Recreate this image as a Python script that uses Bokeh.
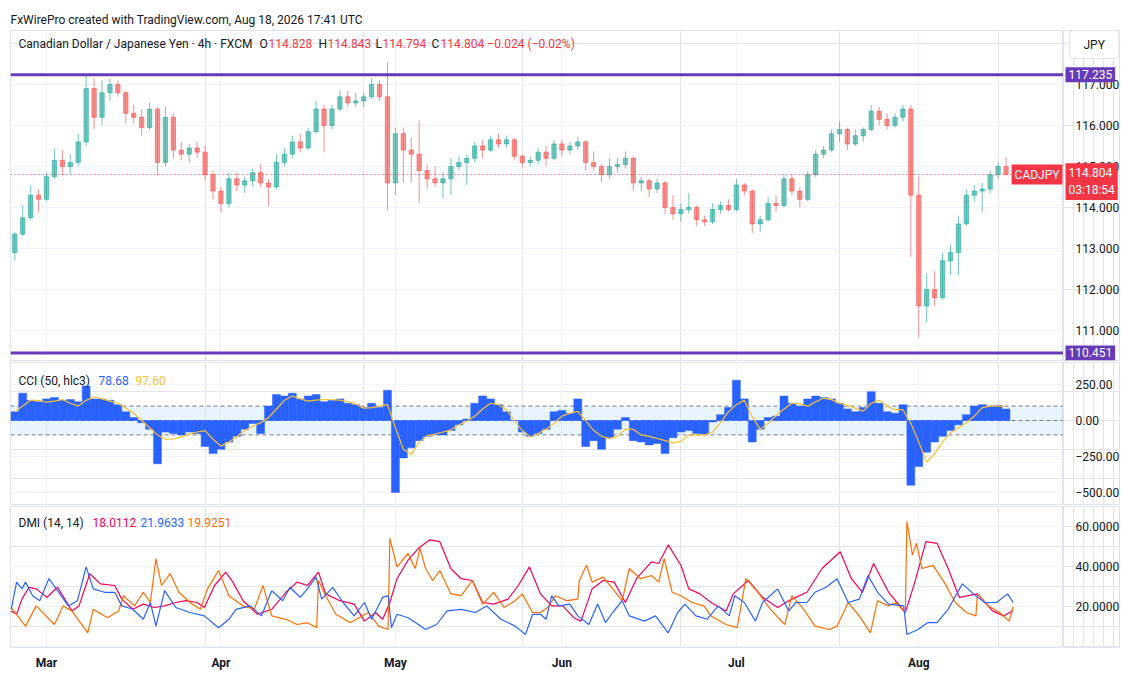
from bokeh.plotting import figure
from bokeh.models import (Range1d, FixedTicker, LinearAxis, Grid, Span, BoxAnnotation, Label,
                          ColumnDataSource, Title)
from bokeh.layouts import column, row
from bokeh.core.properties import value
from bokeh.embed import file_html
from bokeh.resources import INLINE

# ---------------- data ----------------
header_text = "FxWirePro created with TradingView.com, Aug 18, 2026 17:41 UTC"
symbol_name = "Canadian Dollar / Japanese Yen · 4h · FXCM"
ticker_name = "CADJPY"
currency = "JPY"
last_bar = [114.828, 114.843, 114.794, 114.804]
last_change = "\u22120.024 (\u22120.02%)"
countdown = "03:18:54"

month_names = ["Mar", "Apr", "May", "Jun", "Jul", "Aug"]
month_start_day = [0, 22, 44, 65, 87, 110]          # trading-day index of the first bar of each month
price_ticks = [111, 112, 113, 114, 115, 116, 117]
levels = [117.235, 110.451]

days = list(range(-4, 122))                         # trading-day index, 0 = Mar 2
open_ = [112.9, 113.35, 113.75, 114.3, 114.2, 114.75, 115.15, 115.0, 115.1, 115.6,
         116.9, 116.2, 116.8, 117.0, 116.8, 116.3, 116.2, 115.95, 116.4, 115.1,
         116.2, 115.4, 115.3, 115.45, 115.35, 114.8, 114.4, 114.1, 114.7, 114.55,
         114.65, 114.85, 114.6, 114.5, 115.1, 115.3, 115.6, 115.45, 115.85, 116.4,
         116.0, 116.4, 116.7, 116.55, 116.6, 116.7, 117.0, 116.7, 114.6, 115.8,
         115.4, 115.3, 114.9, 114.7, 114.6, 114.7, 115.0, 115.1, 115.2, 115.5,
         115.4, 115.65, 115.55, 115.65, 115.25, 115.1, 115.15, 115.35, 115.2, 115.55,
         115.4, 115.5, 115.6, 115.1, 115.0, 114.8, 115.0, 115.05, 115.2, 114.6,
         114.65, 114.45, 114.6, 114.0, 113.85, 113.95, 114.0, 113.7, 113.65, 113.95,
         114.05, 113.95, 114.55, 114.4, 113.6, 113.7, 114.1, 114.05, 114.7, 114.4,
         114.2, 114.8, 115.3, 115.4, 115.8, 115.9, 115.55, 115.75, 115.9, 116.35,
         116.15, 116.0, 116.2, 116.4, 114.3, 111.6, 112.0, 111.8, 112.7, 112.9,
         113.6, 114.3, 114.4, 114.45, 114.8, 115.0]
high = [113.4, 114.05, 114.55, 114.45, 114.85, 115.45, 115.4, 115.3, 115.8, 117.22,
        117.15, 117.1, 117.15, 117.1, 116.85, 116.5, 116.4, 116.55, 116.45, 116.45,
        116.3, 115.6, 115.55, 115.6, 115.5, 114.9, 114.5, 114.85, 114.85, 114.75,
        114.95, 115.05, 114.7, 115.3, 115.45, 115.75, 115.8, 115.95, 116.6, 116.5,
        116.5, 116.85, 116.85, 116.8, 116.8, 117.15, 117.1, 117.54, 115.95, 115.95,
        115.7, 116.12, 115.05, 115.0, 114.85, 115.2, 115.25, 115.3, 115.6, 115.65,
        115.75, 115.8, 115.75, 115.7, 115.3, 115.25, 115.45, 115.5, 115.65, 115.65,
        115.6, 115.72, 115.65, 115.37, 115.05, 115.2, 115.2, 115.37, 115.25, 114.75,
        114.7, 114.7, 114.65, 114.3, 114.1, 114.35, 114.05, 113.8, 114.1, 114.15,
        114.2, 114.7, 114.6, 114.45, 113.8, 114.25, 114.3, 114.8, 114.8, 114.5,
        114.9, 115.4, 115.5, 115.9, 116.1, 115.95, 115.9, 115.95, 116.5, 116.45,
        116.3, 116.3, 116.5, 116.5, 114.75, 112.4, 112.45, 112.9, 113.1, 113.8,
        114.45, 114.55, 114.6, 114.9, 115.1, 115.22]
low = [112.7, 113.3, 113.7, 113.88, 114.15, 114.7, 114.78, 114.8, 115.0, 115.5,
       115.9, 116.0, 116.6, 116.7, 116.05, 116.05, 115.75, 115.9, 114.78, 115.0,
       115.2, 115.15, 115.1, 115.2, 114.65, 114.2, 113.88, 114.0, 114.4, 114.35,
       114.5, 114.5, 114.03, 114.45, 115.0, 115.2, 115.35, 115.4, 115.8, 115.35,
       115.9, 116.35, 116.45, 116.45, 116.45, 116.65, 116.6, 113.93, 114.3, 114.6,
       114.6, 114.1, 114.45, 114.5, 114.22, 114.3, 114.9, 114.55, 115.1, 115.2,
       115.35, 115.45, 115.45, 115.15, 114.98, 115.0, 115.05, 115.0, 115.15, 115.25,
       115.3, 115.4, 114.9, 114.9, 114.62, 114.7, 114.85, 114.95, 114.4, 114.4,
       114.25, 114.35, 113.85, 113.7, 113.65, 113.85, 113.55, 113.55, 113.6, 113.85,
       113.9, 113.9, 114.3, 113.37, 113.4, 113.65, 113.9, 114.0, 114.3, 114.0,
       114.15, 114.75, 115.2, 115.35, 115.6, 115.4, 115.5, 115.6, 115.85, 116.0,
       115.9, 115.95, 116.1, 112.8, 110.83, 111.2, 111.6, 111.75, 112.35, 112.34,
       113.55, 114.15, 113.88, 114.35, 114.7, 114.78]
close = [113.35, 113.75, 114.3, 114.2, 114.75, 115.15, 115.0, 115.1, 115.6, 116.9,
         116.2, 116.8, 117.0, 116.8, 116.3, 116.2, 115.95, 116.4, 115.1, 116.2,
         115.4, 115.3, 115.45, 115.35, 114.8, 114.4, 114.1, 114.7, 114.55, 114.65,
         114.85, 114.6, 114.5, 115.1, 115.3, 115.6, 115.45, 115.85, 116.4, 116.0,
         116.4, 116.7, 116.55, 116.6, 116.7, 117.0, 116.7, 114.6, 115.8, 115.4,
         115.3, 114.9, 114.7, 114.6, 114.7, 115.0, 115.1, 115.2, 115.5, 115.4,
         115.65, 115.55, 115.65, 115.25, 115.1, 115.15, 115.35, 115.2, 115.55, 115.4,
         115.5, 115.6, 115.1, 115.0, 114.8, 115.0, 115.05, 115.2, 114.6, 114.65,
         114.45, 114.6, 114.0, 113.85, 113.95, 114.0, 113.7, 113.65, 113.95, 114.05,
         113.95, 114.55, 114.4, 113.6, 113.7, 114.1, 114.05, 114.7, 114.4, 114.2,
         114.8, 115.3, 115.4, 115.8, 115.9, 115.55, 115.75, 115.9, 116.35, 116.15,
         116.0, 116.2, 116.4, 114.3, 111.6, 112.0, 111.8, 112.7, 112.9, 113.6,
         114.3, 114.4, 114.45, 114.8, 115.0, 114.804]

# CCI (50, hlc3) and its moving average, one reading per trading day
cci = [60, 190, 140, 130, 150, 160, 140, 145, 130, 240,
       150, 150, 140, 110, 60, 20, -15, -60, -300, -80,
       -90, -100, -80, -90, -180, -230, -200, -150, -110, -60,
       -20, -90, 100, 180, 170, 190, 150, 170, 180, 130,
       140, 150, 120, 110, 90, 120, 90, 210, -500, -260,
       -190, -140, -110, -100, -100, -70, -30, 10, 120, 170,
       150, 110, 60, 0, -80, -110, -90, -60, 60, 70,
       50, 150, -180, -140, -200, -120, -60, 20, -140, -150,
       -170, -160, -230, -120, -80, -70, -90, -95, -10, 40,
       90, 280, 150, -150, -60, 20, 30, 170, 120, 100,
       150, 170, 160, 150, 120, 80, 60, 90, 200, 120,
       60, 50, 110, -450, -320, -220, -150, -110, -70, -30,
       40, 100, 110, 100, 105, 80]
cci_ma = [60, 100, 140, 140, 127, 135, 146, 120, 100, 140,
          163, 150, 135, 120, 85, 50, 0, -50, -100, -130,
          -128, -115, -95, -80, -70, -130, -178, -150, -113, -70,
          -40, -15, 20, 80, 140, 170, 150, 135, 142, 146,
          144, 142, 130, 115, 85, 90, 100, 110, -50, -200,
          -235, -150, -105, -95, -80, -65, -30, -5, 30, 80,
          120, 110, 75, 0, -70, -115, -90, -60, -20, 30,
          50, 64, 0, -70, -110, -125, -110, -60, -60, -100,
          -110, -125, -140, -155, -145, -101, -100, -100, -80, -15,
          60, 110, 140, 25, -60, -20, 35, 80, 120, 115,
          100, 130, 155, 145, 120, 105, 85, 65, 120, 140,
          100, 75, 75, -20, -150, -290, -230, -150, -85, -50,
          -15, 30, 90, 100, 100, 97.6]
cci_levels = [100, 0, -100]
cci_ticks = [-500, -250, 0, 250]
cci_last = ["78.68", "97.60"]

# DMI (14, 14): readings at (trading-day, value)
adx_day = [-4.45, -3.77, -3.1, -2.2, -1.3, 0.06, 1.4, 2.3, 3.2, 4.1, 5.46, 6.8, 8.6, 9.5, 10.9,
           12.2, 13.6, 14.9, 16.3, 17.6, 19, 19.9, 21.2, 22.6, 23.5, 24.8, 25.7, 26.6, 28.4, 30.2,
           31.6, 32.9, 34.3, 35.2, 37, 38.8, 40.1, 41.5, 42.4, 43.3, 44.2, 45.6, 46.9, 48.3, 49.6,
           51, 52.3, 53.7, 55, 56.4, 58.2, 59.5, 60.9, 62.3, 63.7, 65.1, 66.5, 67.4, 68.8, 70.2,
           71.6, 73, 74.4, 76.3, 77.2, 78.4, 80, 81, 82.4, 83.8, 85.7, 86.6, 88.5, 90.3, 92.2,
           94, 95.9, 97.8, 100.1, 101.5, 102.9, 104.3, 106.2, 108.3, 109.5, 110.9, 112.3, 113.7,
           115.1, 117.4, 119.3, 120.7, 121.9]
adx_val = [17.8, 16.1, 23.7, 29.6, 28.8, 24.6, 29.6, 23.7, 17.8, 20.3, 36.4, 31.3, 30.5, 23.7, 18.6,
           21.2, 19.5, 20.3, 22, 22.9, 22, 19.5, 30.5, 37.2, 32.2, 22.9, 19.5, 16.1, 18.6, 27.1,
           32.2, 30.5, 37.2, 26.3, 22.9, 21.2, 12.7, 17, 13.6, 22, 33.9, 43.2, 49.1, 53.3, 52.4,
           38.9, 33.9, 33, 22, 21.2, 23.7, 30.5, 39.8, 26.3, 20.3, 20.3, 14.4, 12.7, 28.8, 33,
           32.2, 22, 33.9, 42.3, 41.5, 50.8, 40.6, 28.8, 26.3, 22, 17.8, 26.3, 33, 24.6, 19.5,
           23.7, 27.1, 39, 47.4, 33.9, 27.1, 41.5, 27.1, 17, 32.2, 52.4, 51.6, 39,
           24.6, 26.3, 17.8, 15.3, 18.0]
pdi_day = [-4.45, -3.77, -3.1, -2.65, -1.75, -0.85, 0.3, 1.4, 2.75, 3.9, 5, 5.9, 7.3, 8.6, 9.5,
           10.9, 12.2, 13.1, 13.8, 14.9, 16.3, 18.1, 19.9, 21.7, 23, 23.9, 25.7, 27.1, 28.4, 29.8,
           30.7, 32, 32.9, 34, 34.7, 36.1, 37.4, 38.8, 40.1, 41, 42.4, 43.1, 43.5, 44.2, 45.6,
           46.9, 47.8, 49.2, 50.5, 52.3, 54.1, 55.5, 57.3, 59.1, 60.4, 61.3, 62.3, 63, 63.7, 64.6,
           66, 67, 68.4, 69.5, 70.5, 71.4, 72.6, 73.5, 75.4, 76.8, 78.4, 79.6, 80.5, 81.9, 83.3,
           84.7, 86.1, 86.8, 88, 89.4, 90.3, 92.2, 93.6, 94.5, 95.9, 96.9, 98.3, 99.7, 101.1, 102.5,
           103.6, 104.8, 106.2, 108.1, 108.5, 109.9, 111.1, 112.3, 113.7, 115.5, 116.9, 118.3,
           119.8, 121.2, 121.9]
pdi_val = [18.6, 32.2, 28.8, 32.2, 25.4, 22.9, 33.9, 27.9, 20.3, 22.9, 39.8, 28.8, 27.1, 27.1, 20.3,
           18.6, 13.6, 22, 10.2, 27.9, 19.5, 17, 15.3, 9.4, 13.6, 18.6, 20.3, 15.3, 27.9, 22.9,
           29.6, 24.6, 28.8, 34.7, 23.7, 29.6, 22, 15.3, 22, 13.6, 24.6, 25.4, 9.4, 16.1, 14.4,
           11, 8.5, 11, 17.8, 18.6, 17, 20.3, 13.6, 10.2, 6, 16.1, 16.1, 13.6, 25.4, 20.3,
           21.2, 15.3, 11, 21.2, 11.9, 17, 22.9, 15.3, 12.7, 15.3, 6.8, 17, 21.2, 15.3, 13.6,
           20.3, 15.3, 25.4, 22, 12.7, 22, 28.8, 17.8, 22, 22, 27.1, 29.6, 33.9, 22, 23.7,
           35.5, 27.1, 21.2, 20.3, 6, 8.5, 11.9, 11.9, 18.6, 31.3, 26.3, 22,
           22, 26.3, 22]
mdi_day = [-4.45, -2.65, -1.3, 1, 2.1, 3.2, 5.2, 5.9, 7.7, 9.1, 9.7, 11.1, 12.2, 13.1, 13.8,
           14.5, 15.6, 16.7, 18.1, 19.4, 20.3, 21.7, 23, 24.8, 26.2, 27.3, 28.4, 30.2, 31.6, 32.9,
           34.07, 34.3, 35.2, 36.5, 38.3, 40.6, 41.9, 43.07, 43.3, 44.2, 45.6, 46.5, 47.1, 47.8, 48.7,
           49.6, 51, 52.3, 53.7, 55, 56.4, 57.7, 59.1, 60, 61.3, 62.3, 63.2, 64.2, 65.6, 67,
           67.2, 68.1, 68.8, 70.2, 71.4, 72.6, 73.5, 74.9, 76.3, 77.2, 77.9, 78.9, 80, 81.4, 82.9,
           83.8, 85.7, 87.1, 88.2, 89.4, 91.3, 93.1, 94, 95.5, 96.9, 98.7, 99.7, 101.1, 102.5, 103.9,
           104.8, 106.2, 107.1, 108.3, 108.5, 109.2, 109.7, 110.4, 111.8, 113.2, 114.6, 116, 117.2,
           117.4, 118.8, 120.2, 121.4, 121.9]
mdi_val = [19.5, 10.2, 20.3, 11, 20.3, 17.8, 6.8, 18.6, 14.4, 17.8, 25.4, 20.3, 27.1, 22, 44,
           30.5, 36.4, 27.1, 22, 18.6, 28.8, 38, 25.4, 20.3, 18.6, 30.5, 15.3, 13.6, 11, 11.9,
           9.4, 33, 25.4, 16.1, 11.9, 17, 10.2, 8.5, 54.1, 39.8, 46.5, 39, 49.1, 39, 33,
           38, 26.3, 25.4, 33, 21.2, 27.1, 19.5, 22.9, 26.3, 17, 17, 19.5, 25.4, 22.9, 23.7,
           33, 40.6, 32.2, 34.7, 28.8, 22.9, 39, 33.9, 35.5, 32.2, 44, 27.1, 25.4, 22, 20.3,
           15.3, 11, 9.4, 33.9, 28.8, 18.6, 11, 25.4, 18.6, 10.2, 8.5, 10.2, 22, 15.3, 6.8,
           22.9, 20.3, 22, 17, 62.6, 45.7, 51.6, 39, 40.6, 32.2, 22, 17, 15.3,
           26.3, 20.3, 17, 12.7, 19.9]
dmi_ticks = [20, 40, 60]
dmi_last = ["18.0112", "21.9633", "19.9251"]

# ---------------- style ----------------
FONT = "Roboto"
TXT = "#131722"
GRID = "#f0f3fa"
BORDER = "#e0e3eb"
UP = "#26a69a"
DOWN = "#ef5350"
RED = "#f23645"
PURPLE = "#673ab7"
CCI_C = "#2962ff"
MA_C = "#fbc02d"
ADX_C = "#f50057"
PDI_C = "#2962ff"
MDI_C = "#ff6d00"

FW = 1053      # chart frame width
LB = 10        # left border
SW = 57        # price-scale column width
x_range = Range1d(-4.54, 128.25)


def make_fig(frame_h, yr, top, bottom, grid_ticks):
    p = figure(frame_width=FW, frame_height=frame_h, x_range=x_range, y_range=yr,
               x_axis_location=None, y_axis_location=None, output_backend="svg",
               toolbar_location=None, min_border_left=LB, min_border_right=0,
               min_border_top=top, min_border_bottom=bottom)
    p.outline_line_color = BORDER
    p.background_fill_color = "white"
    p.border_fill_color = "white"
    p.add_layout(Grid(dimension=1, ticker=FixedTicker(ticks=grid_ticks), grid_line_color=GRID))
    p.add_layout(Grid(dimension=0, ticker=FixedTicker(ticks=month_start_day), grid_line_color=GRID))
    return p


def side_fig(frame_h, yr, top, bottom, ticks, labels):
    s = figure(frame_width=SW, frame_height=frame_h, x_range=Range1d(0, SW), y_range=yr,
               x_axis_location=None, y_axis_location=None, output_backend="svg",
               toolbar_location=None, min_border_left=0, min_border_right=0,
               min_border_top=top, min_border_bottom=bottom)
    s.outline_line_color = BORDER
    s.background_fill_color = "white"
    s.border_fill_color = "white"
    s.text(x=[12] * len(ticks), y=ticks, text=labels, text_font=value(FONT),
           text_font_size=value("12px"), text_baseline="middle", text_align="left", text_color=TXT)
    return s


def text(p, s, x, y, color=TXT, size="12px", x_units="screen", y_units="screen", **kw):
    p.add_layout(Label(x=x, y=y, x_units=x_units, y_units=y_units, text=s, text_color=color,
                       text_font=FONT, text_font_size=size, text_baseline="middle", **kw))


# ---------------- price pane ----------------
PH = 330
pr_range = Range1d(110.268, 118.317)
p1 = make_fig(PH, pr_range, 30, 2, price_ticks)
p1.add_layout(Title(text=header_text, align="left", text_font=FONT, text_font_size="12px",
                    text_font_style="normal", text_color=TXT, standoff=8), "above")

src = ColumnDataSource(dict(
    day=days, o=open_, h=high, l=low, c=close,
    top=[max(a, b) for a, b in zip(open_, close)],
    bottom=[min(a, b) for a, b in zip(open_, close)],
    color=[UP if c >= o else DOWN for o, c in zip(open_, close)],
))
p1.segment(x0="day", y0="l", x1="day", y1="h", line_color="color", line_alpha=0.65, line_width=1, source=src)
p1.vbar(x="day", width=0.55, top="top", bottom="bottom", fill_color="color", fill_alpha=0.6,
        line_color="color", line_alpha=0.6, source=src)

p1.add_layout(Span(location=close[-1], dimension="width", line_color=RED, line_dash="1 3", line_width=1))
for lv in levels:
    p1.add_layout(Span(location=lv, dimension="width", line_color=PURPLE, line_width=3))
text(p1, ticker_name, FW - 1, close[-1], color="white", y_units="data", text_align="right",
     background_fill_color=RED, padding=3)
text(p1, symbol_name, 8, PH - 13)
ohlc_x = [(249, 258), (308, 317), (365, 372), (421, 430)]
for (lx, vx), letter, val in zip(ohlc_x, "OHLC", last_bar):
    text(p1, letter, lx, PH - 13)
    text(p1, f"{val:.3f}", vx, PH - 13, color=RED)
text(p1, last_change, 477, PH - 13, color=RED)

s1 = side_fig(PH, pr_range, 30, 2, price_ticks, [f"{t:.3f}" for t in price_ticks])
for lv in levels:
    text(s1, f"{lv:.3f}", 2, lv, x_units="data", y_units="data", color="white",
         background_fill_color=PURPLE, padding=3)
text(s1, f"{close[-1]:.3f}\n{countdown}", 2, close[-1], x_units="data", y_units="data",
     color="white", background_fill_color=RED, padding=3, y_offset=-7)
text(s1, currency, 6, PH - 14, x_units="data", background_fill_color="white",
     border_line_color=BORDER, padding=(14, 7), border_radius=4)

# ---------------- CCI pane ----------------
CH = 142
cci_range = Range1d(-583.3, 402.8)
p2 = make_fig(CH, cci_range, 0, 2, cci_ticks)
p2.add_layout(BoxAnnotation(bottom=cci_levels[2], top=cci_levels[0], fill_color="#2196f3",
                            fill_alpha=0.1, line_alpha=0, level="underlay"))
for lv in cci_levels:
    p2.add_layout(Span(location=lv, dimension="width", line_color="#787b86", line_dash="4 3",
                       line_width=1, level="underlay"))
p2.vbar(x=days, width=1.0, top=cci, bottom=0, fill_color=CCI_C, line_color=CCI_C, line_width=0.5)
p2.line(days, cci_ma, line_color=MA_C, line_width=1.2)
text(p2, "CCI (50, hlc3)", 8, CH - 18)
text(p2, cci_last[0], 88, CH - 18, color=CCI_C)
text(p2, cci_last[1], 125, CH - 18, color=MA_C)
s2 = side_fig(CH, cci_range, 0, 2, cci_ticks,
              [f"{t:.2f}".replace("-", "\u2212") for t in cci_ticks])

# ---------------- DMI pane ----------------
DH = 141
dmi_range = Range1d(-0.5, 70)
p3 = make_fig(DH, dmi_range, 0, 26, [0] + dmi_ticks)
p3.line(adx_day, adx_val, line_color=ADX_C, line_width=1.2)
p3.line(mdi_day, mdi_val, line_color=MDI_C, line_width=1.2)
p3.line(pdi_day, pdi_val, line_color=PDI_C, line_width=1.2)
text(p3, "DMI (14, 14)", 8, DH - 16)
text(p3, dmi_last[0], 82, DH - 16, color=ADX_C)
text(p3, dmi_last[1], 130, DH - 16, color=PDI_C)
text(p3, dmi_last[2], 177, DH - 16, color=MDI_C)
s3 = side_fig(DH, dmi_range, 0, 26, dmi_ticks, [f"{t:.4f}" for t in dmi_ticks])

xax = LinearAxis(ticker=FixedTicker(ticks=month_start_day),
                 major_label_overrides={d: m for d, m in zip(month_start_day, month_names)})
xax.axis_line_color = None
xax.major_tick_line_color = None
xax.minor_tick_line_color = None
xax.major_label_standoff = 2
xax.major_label_text_font = FONT
xax.major_label_text_font_size = "12px"
xax.major_label_text_font_style = "bold"
xax.major_label_text_color = TXT
p3.add_layout(xax, "below")

layout = column(row(p1, s1, spacing=0), row(p2, s2, spacing=0), row(p3, s3, spacing=0), spacing=0)
open("out.html", "w").write(file_html(layout, INLINE, title="CADJPY"))
